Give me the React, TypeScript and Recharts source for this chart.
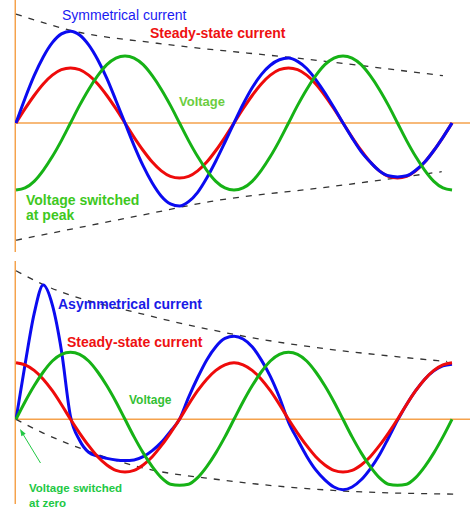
import React from 'react';
import { LineChart, Line, XAxis, YAxis, ReferenceLine } from 'recharts';

// Phase angle in degrees (two cycles)
const ANGLES = [
  0, 15, 30, 45, 60, 75, 90, 105, 120, 135, 150, 165, 180, 195, 210, 225, 240, 255, 270, 285, 300, 315, 330, 345, 360,
  375, 390, 405, 420, 435, 450, 465, 480, 495, 510, 525, 540, 555, 570, 585, 600, 615, 630, 645, 660, 675, 690, 705, 720,
];

// ---- Top panel: voltage switched at peak (per-unit, steady-state peak = 1) ----
const topSteady = [
  0, 0.26, 0.5, 0.71, 0.87, 0.97, 1, 0.97, 0.87, 0.71, 0.5, 0.26, 0, -0.26, -0.5, -0.71, -0.87, -0.97, -1, -0.97, -0.87, -0.71, -0.5, -0.26, 0,
  0.26, 0.5, 0.71, 0.87, 0.97, 1, 0.97, 0.87, 0.71, 0.5, 0.26, 0, -0.26, -0.5, -0.71, -0.87, -0.97, -1, -0.97, -0.87, -0.71, -0.5, -0.26, 0,
];
const topSymmetrical = [
  0, 0.45, 0.86, 1.2, 1.46, 1.62, 1.67, 1.6, 1.42, 1.15, 0.81, 0.41, 0, -0.41, -0.78, -1.09, -1.33, -1.47, -1.51, -1.43, -1.26, -1.0, -0.69, -0.35, 0,
  0.34, 0.64, 0.88, 1.05, 1.15, 1.18, 1.12, 0.99, 0.79, 0.55, 0.28, 0, -0.27, -0.52, -0.71, -0.87, -0.96, -0.98, -0.96, -0.86, -0.71, -0.5, -0.26, 0,
];
const topVoltage = [
  -1.22, -1.18, -1.06, -0.86, -0.61, -0.32, 0, 0.32, 0.61, 0.86, 1.06, 1.18, 1.22, 1.18, 1.06, 0.86, 0.61, 0.32, 0, -0.32, -0.61, -0.86, -1.06, -1.18, -1.22,
  -1.18, -1.06, -0.86, -0.61, -0.32, 0, 0.32, 0.61, 0.86, 1.06, 1.18, 1.22, 1.18, 1.06, 0.86, 0.61, 0.32, 0, -0.32, -0.61, -0.86, -1.06, -1.18, -1.22,
];
const topUpperEnvT = [0, 100, 233, 480, 705];
const topUpperEnvV = [1.98, 1.66, 1.45, 1.16, 0.86];
const topLowerEnvT = [0, 100, 210, 320, 518, 703];
const topLowerEnvV = [-2.13, -1.91, -1.67, -1.43, -1.16, -0.885];

// ---- Bottom panel: voltage switched at zero ----
const botSteady = [
  1.03, 0.99, 0.89, 0.73, 0.52, 0.27, 0, -0.25, -0.48, -0.68, -0.83, -0.93, -0.96, -0.93, -0.83, -0.68, -0.48, -0.25, 0, 0.27, 0.52, 0.73, 0.89, 0.99, 1.03,
  0.99, 0.89, 0.73, 0.52, 0.27, 0, -0.25, -0.48, -0.68, -0.83, -0.93, -0.96, -0.93, -0.83, -0.68, -0.48, -0.25, 0, 0.27, 0.52, 0.73, 0.89, 0.99, 1.03,
];
const botAsymmetrical = [
  0, 1.0, 1.92, 2.44, 2.08, 1.25, 0.05, -0.38, -0.6, -0.67, -0.71, -0.74, -0.75, -0.74, -0.68, -0.57, -0.42, -0.22, 0, 0.4, 0.76, 1.08, 1.32, 1.47, 1.51,
  1.46, 1.32, 1.08, 0.78, 0.4, -0.05, -0.37, -0.67, -0.92, -1.1, -1.23, -1.28, -1.23, -1.1, -0.9, -0.65, -0.34, -0.02, 0.27, 0.52, 0.73, 0.88, 0.97, 1.0,
];
const botVoltage = [
  0, 0.32, 0.61, 0.86, 1.06, 1.18, 1.22, 1.18, 1.06, 0.86, 0.61, 0.32, 0, -0.32, -0.61, -0.86, -1.06, -1.18, -1.2, -1.18, -1.06, -0.86, -0.61, -0.32, 0,
  0.32, 0.61, 0.86, 1.06, 1.18, 1.22, 1.18, 1.06, 0.86, 0.61, 0.32, 0, -0.32, -0.61, -0.86, -1.06, -1.18, -1.2, -1.18, -1.06, -0.86, -0.61, -0.32, 0,
];
const botUpperEnvT = [0, 45, 221, 362, 712];
const botUpperEnvV = [2.7, 2.45, 1.88, 1.54, 1.05];
const botLowerEnvT = [0, 45, 127, 216, 337, 535, 722];
const botLowerEnvV = [0, -0.25, -0.61, -0.9, -1.1, -1.3, -1.36];

const ORANGE = '#F5A24C';
const BLUE = '#0b0bf0';
const RED = '#ee0b0b';
const GREEN = '#16b216';
const DASH = '#333333';
const FONT = "Arial, 'Liberation Sans', sans-serif";

const table = (a: number[], b: number[], c: number[]) =>
  ANGLES.map((t, i) => ({ t, steady: a[i], trans: b[i], volt: c[i] }));
const env = (ts: number[], vs: number[]) => ts.map((t, i) => ({ t, v: vs[i] }));

const topData = table(topSteady, topSymmetrical, topVoltage);
const botData = table(botSteady, botAsymmetrical, botVoltage);

const X_DOMAIN: [number, number] = [-1.65, 749.7];

export default function App() {
  const dashProps = {
    dataKey: 'v',
    type: 'monotone' as const,
    stroke: DASH,
    strokeWidth: 1.3,
    strokeDasharray: '6 7',
    dot: false,
    isAnimationActive: false,
  };
  const curve = (key: string, color: string) => (
    <Line
      key={key}
      dataKey={key}
      type="monotone"
      stroke={color}
      strokeWidth={3}
      dot={false}
      isAnimationActive={false}
    />
  );
  return (
    <div style={{ position: 'absolute', left: 0, top: 0, width: 470, height: 512, background: '#fff' }}>
      <div style={{ position: 'absolute', left: 0, top: 0 }}>
        <LineChart width={470} height={256} data={topData} margin={{ top: 0, right: 0, bottom: 4, left: 15 }}>
          <XAxis type="number" dataKey="t" domain={X_DOMAIN} hide allowDataOverflow />
          <YAxis
            type="number"
            domain={[-2.345, 2.236]}
            width={0}
            tick={false}
            tickLine={false}
            axisLine={{ stroke: ORANGE, strokeWidth: 1.5 }}
            allowDataOverflow
          />
          <ReferenceLine x={-1.2} stroke={ORANGE} strokeWidth={1.5} />
          <ReferenceLine y={0} stroke={ORANGE} strokeWidth={1.5} />
          <Line data={env(topUpperEnvT, topUpperEnvV)} {...dashProps} />
          <Line data={env(topLowerEnvT, topLowerEnvV)} {...dashProps} />
          {curve('steady', RED)}
          {curve('trans', BLUE)}
          {curve('volt', GREEN)}
        </LineChart>
      </div>
      <div style={{ position: 'absolute', left: 0, top: 256 }}>
        <LineChart width={470} height={256} data={botData} margin={{ top: 5, right: 0, bottom: 8, left: 15 }}>
          <XAxis type="number" dataKey="t" domain={X_DOMAIN} hide allowDataOverflow />
          <YAxis
            type="number"
            domain={[-1.54, 2.878]}
            width={0}
            tick={false}
            tickLine={false}
            axisLine={{ stroke: ORANGE, strokeWidth: 1.5 }}
            allowDataOverflow
          />
          <ReferenceLine x={-1.2} stroke={ORANGE} strokeWidth={1.5} />
          <ReferenceLine y={0} stroke={ORANGE} strokeWidth={1.5} />
          <Line data={env(botUpperEnvT, botUpperEnvV)} {...dashProps} />
          <Line data={env(botLowerEnvT, botLowerEnvV)} {...dashProps} />
          {curve('trans', BLUE)}
          {curve('steady', RED)}
          {curve('volt', GREEN)}
        </LineChart>
      </div>
      <svg
        width={470}
        height={512}
        style={{ position: 'absolute', left: 0, top: 0, pointerEvents: 'none' }}
        fontFamily={FONT}
      >
        <text x={62} y={20} fontSize={14} fill="#1a1af2">Symmetrical current</text>
        <text x={150} y={38} fontSize={14} fontWeight="bold" fill="#ee1111">Steady-state current</text>
        <text x={179} y={106} fontSize={13} fontWeight="bold" fill="#6ccd3f">Voltage</text>
        <text x={26} y={205} fontSize={14} fontWeight="bold" fill="#3ec81e">Voltage switched</text>
        <text x={26} y={220} fontSize={14} fontWeight="bold" fill="#3ec81e">at peak</text>

        <text x={58} y={309} fontSize={14} fontWeight="bold" fill="#1a1ae6">Asymmetrical current</text>
        <text x={67} y={347} fontSize={14} fontWeight="bold" fill="#ee1111">Steady-state current</text>
        <text x={129} y={404} fontSize={12} fontWeight="bold" fill="#33c033">Voltage</text>
        <text x={29} y={491.5} fontSize={11.5} fontWeight="bold" fill="#22c844">Voltage switched</text>
        <text x={29} y={506.5} fontSize={11.5} fontWeight="bold" fill="#22c844">at zero</text>

        <line x1={40.5} y1={463} x2={23.5} y2={435} stroke="#22c844" strokeWidth={1} />
        <polygon points="20,429 25.7,433.8 21.4,436.3" fill="#22c844" />
      </svg>
    </div>
  );
}
